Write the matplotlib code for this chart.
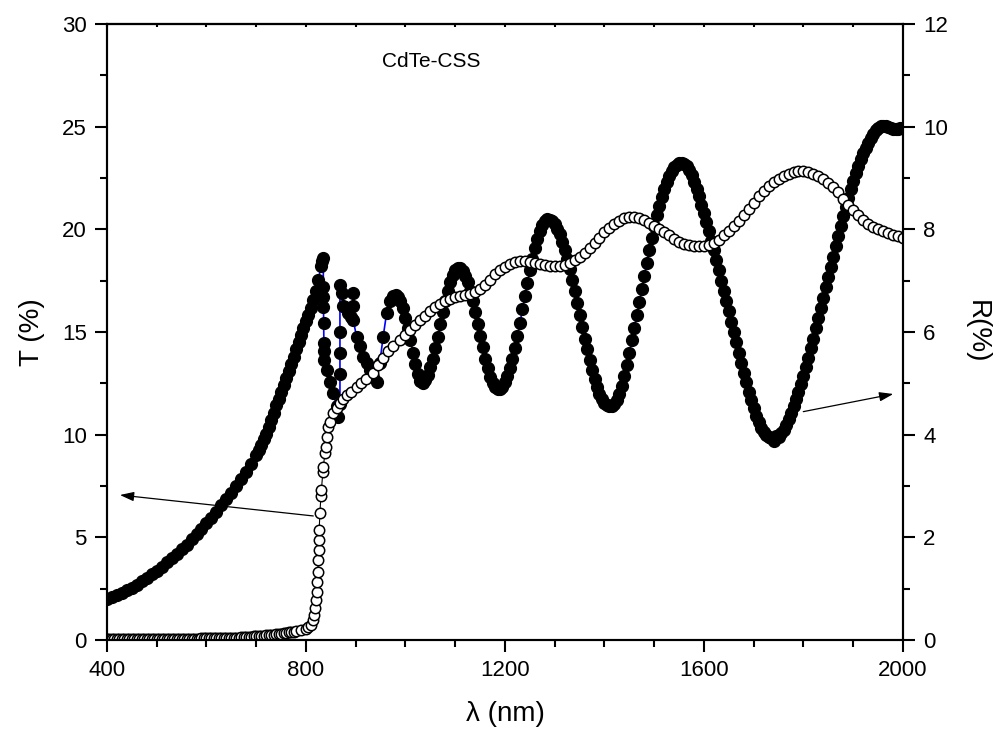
import numpy as np
import matplotlib
matplotlib.use('Agg')
import matplotlib.pyplot as plt
from matplotlib.ticker import MultipleLocator

plt.rcParams['font.family'] = ['Liberation Sans', 'DejaVu Sans']

# T (%) - open circles, left axis
t_wl_a = np.arange(400, 781, 5)
t_a = [0.03, 0.03, 0.03, 0.03, 0.03, 0.03, 0.03, 0.03, 0.03, 0.03,
       0.04, 0.04, 0.04, 0.04, 0.04, 0.04, 0.04, 0.04, 0.05, 0.05,
       0.05, 0.05, 0.05, 0.05, 0.05, 0.05, 0.05, 0.05, 0.06, 0.06,
       0.06, 0.06, 0.06, 0.06, 0.07, 0.07, 0.07, 0.07, 0.08, 0.08,
       0.08, 0.08, 0.09, 0.09, 0.09, 0.09, 0.10, 0.10, 0.10, 0.10,
       0.11, 0.11, 0.12, 0.12, 0.13, 0.13, 0.14, 0.15, 0.16, 0.17,
       0.18, 0.19, 0.20, 0.21, 0.22, 0.23, 0.25, 0.26, 0.28, 0.30,
       0.31, 0.33, 0.35, 0.37, 0.39, 0.41, 0.43]
t_wl_b = [790, 800, 805, 810, 814, 816, 818, 820, 821.4, 823,
          824, 824.8, 825.5, 826, 826.5, 828, 830, 831, 834, 835,
          838, 839.5, 841.5, 845, 848, 855, 862, 868, 875, 882,
          890, 902, 910, 920, 935, 945, 955, 965, 975, 989, 1000]
t_b = [0.48, 0.55, 0.62, 0.75, 0.95, 1.2, 1.54, 1.95, 2.35, 2.84,
       3.33, 3.9, 4.38, 4.87, 5.36, 6.17, 7.0, 7.31, 8.2, 8.44,
       9.09, 9.42, 9.9, 10.39, 10.64, 11.04, 11.3, 11.53, 11.75, 11.93,
       12.1, 12.3, 12.5, 12.7, 13.0, 13.4, 13.75, 14.05, 14.3, 14.6, 14.85]
t_wl_c = np.arange(1010, 2001, 10)
t_c = [15.1, 15.35, 15.6, 15.8, 16.0, 16.2, 16.35, 16.5, 16.6, 16.7,
       16.75, 16.8, 16.85, 16.95, 17.1, 17.3, 17.55, 17.8, 18.0, 18.15,
       18.3, 18.4, 18.45, 18.45, 18.4, 18.35, 18.3, 18.25, 18.2, 18.2,
       18.2, 18.25, 18.35, 18.5, 18.65, 18.85, 19.1, 19.35, 19.6, 19.85,
       20.05, 20.25, 20.4, 20.55, 20.6, 20.6, 20.55, 20.45, 20.3, 20.15,
       20.0, 19.85, 19.7, 19.55, 19.4, 19.3, 19.25, 19.2, 19.2, 19.2,
       19.25, 19.35, 19.5, 19.7, 19.9, 20.15, 20.4, 20.7, 21.0, 21.3,
       21.6, 21.85, 22.1, 22.3, 22.45, 22.6, 22.7, 22.8, 22.85, 22.85,
       22.8, 22.7, 22.6, 22.45, 22.25, 22.05, 21.8, 21.5, 21.2, 20.95,
       20.7, 20.45, 20.25, 20.1, 20.0, 19.9, 19.8, 19.7, 19.65, 19.6]

# R (%) - filled circles, right axis
r_wl_a = np.arange(400, 701, 10)
r_a = [0.80, 0.84, 0.88, 0.92, 0.97, 1.02, 1.08, 1.14, 1.21, 1.28,
       1.35, 1.43, 1.51, 1.59, 1.68, 1.77, 1.86, 1.96, 2.06, 2.16,
       2.27, 2.38, 2.50, 2.62, 2.74, 2.87, 3.00, 3.14, 3.28, 3.43, 3.60]
r_wl_b = np.arange(705, 831, 5)
r_b = [3.70, 3.80, 3.91, 4.02, 4.15, 4.29, 4.43, 4.57, 4.70, 4.83,
       4.96, 5.10, 5.24, 5.38, 5.52, 5.66, 5.80, 5.94, 6.08, 6.21,
       6.34, 6.47, 6.62, 6.80, 7.02, 7.28]
r_wl_c = [832.5, 834.8, 834.8, 835, 835.2, 835.5, 836, 836.5, 837, 841.5,
          848, 855, 861.6, 865, 868.3, 868.3, 868.3, 868.3, 868.3, 872,
          875, 878.4, 885, 890, 895, 895, 895, 901.7, 908.4, 915,
          921.8, 928.5, 935, 941.8, 948.5, 955, 962, 968.6, 975, 980]
r_c = [7.38, 7.45, 6.88, 6.69, 6.49, 6.17, 5.78, 5.62, 5.46, 5.26,
       5.03, 4.81, 4.55, 4.35, 4.6, 5.19, 5.59, 6.0, 6.92, 6.75,
       6.5, 6.49, 6.36, 6.3, 6.75, 6.5, 6.23, 5.91, 5.72, 5.52,
       5.39, 5.26, 5.13, 5.03, 5.4, 5.9, 6.36, 6.6, 6.7, 6.72]
r_wl_d = np.arange(985, 2001, 5)
r_d = [6.69, 6.60, 6.46, 6.28, 6.07, 5.84, 5.60, 5.38, 5.19, 5.04,
       5.01, 5.06, 5.16, 5.31, 5.48, 5.69, 5.91, 6.15, 6.38, 6.60,
       6.80, 6.98, 7.11, 7.20, 7.25,
       7.24, 7.19, 7.10, 6.97, 6.80, 6.60, 6.39, 6.16, 5.92, 5.70,
       5.48, 5.29, 5.13, 5.01, 4.93, 4.88,
       4.89, 4.93, 5.02, 5.14, 5.30, 5.48, 5.69, 5.93, 6.17, 6.44,
       6.70, 6.96, 7.20, 7.43, 7.63, 7.81, 7.97, 8.08, 8.16, 8.20,
       8.19, 8.16, 8.10, 8.01, 7.90, 7.76, 7.59, 7.42, 7.22, 7.01,
       6.79, 6.56, 6.33, 6.10, 5.87, 5.66, 5.45, 5.26, 5.08, 4.93,
       4.80, 4.70, 4.62, 4.57, 4.55,
       4.56, 4.60, 4.68, 4.80, 4.95, 5.14, 5.36, 5.60, 5.84, 6.08,
       6.33, 6.58, 6.84, 7.10, 7.35, 7.60, 7.84, 8.06, 8.27, 8.46,
       8.63, 8.78, 8.92, 9.04, 9.13, 9.21, 9.26, 9.29, 9.30,
       9.28, 9.23, 9.15, 9.05, 8.93, 8.79, 8.64, 8.48, 8.32, 8.15,
       7.97, 7.78, 7.59, 7.40, 7.20, 7.00, 6.80, 6.60, 6.40, 6.20,
       6.00, 5.80, 5.60, 5.40, 5.21, 5.02, 4.84, 4.67, 4.51, 4.37,
       4.24, 4.13, 4.05, 3.99, 3.95, 3.93, 3.88, 3.97, 3.95,
       4.03, 4.10, 4.19, 4.30, 4.42, 4.55, 4.69, 4.83, 4.98, 5.14,
       5.31, 5.49, 5.68, 5.87, 6.07, 6.27, 6.47, 6.67, 6.87, 7.07,
       7.27, 7.47, 7.67, 7.87, 8.06, 8.25, 8.43, 8.61, 8.78, 8.94,
       9.09, 9.23, 9.36, 9.48, 9.59, 9.69, 9.78, 9.86, 9.93, 9.98,
       10.01, 10.02, 10.01, 9.99, 9.97, 9.96, 9.95, 9.96, 9.97, 9.98]

t_wl = np.concatenate([t_wl_a, t_wl_b, t_wl_c])
t_val = np.concatenate([t_a, t_b, t_c])
r_wl = np.concatenate([r_wl_a, r_wl_b, r_wl_c, r_wl_d])
r_val = np.concatenate([r_a, r_b, r_c, r_d])

fig = plt.figure(figsize=(9.96, 7.33), dpi=100)
ax = fig.add_axes([0.1074, 0.1269, 0.7992, 0.8404])
ax2 = ax.twinx()
ax.set_zorder(ax2.get_zorder() + 1)
ax.patch.set_visible(False)

ax2.plot(r_wl, r_val, '-', color='blue', lw=1.2, marker='o', ms=8.5,
         mfc='black', mec='black')
ax.plot(t_wl, t_val, '-', color='black', lw=0.8, marker='o', ms=7.5,
        mfc='white', mec='black', mew=1.1)

ax.set_xlim(400, 2000)
ax.set_ylim(0, 30)
ax2.set_ylim(0, 12)
ax.xaxis.set_major_locator(MultipleLocator(400))
ax.xaxis.set_minor_locator(MultipleLocator(100))
ax.yaxis.set_major_locator(MultipleLocator(5))
ax.yaxis.set_minor_locator(MultipleLocator(2.5))
ax2.yaxis.set_major_locator(MultipleLocator(2))
ax2.yaxis.set_minor_locator(MultipleLocator(1))

for a in (ax, ax2):
    for s in a.spines.values():
        s.set_linewidth(1.5)
    a.tick_params(which='major', direction='out', length=8.5, width=1.5,
                  labelsize=16, pad=6)
    a.tick_params(which='minor', direction='out', length=5, width=1.5)

top = ax.secondary_xaxis('top')
top.xaxis.set_major_locator(MultipleLocator(100))
top.tick_params(direction='in', length=2, width=1.5, labeltop=False)
top.spines['top'].set_linewidth(1.5)

ax.set_xlabel('λ (nm)', fontsize=20, labelpad=14)
ax.set_ylabel('T (%)', fontsize=20, labelpad=12)
ax2.set_ylabel('R(%)', fontsize=20, rotation=270, labelpad=30)

ax.text(1052, 28.15, 'CdTe-CSS', ha='center', va='center', fontsize=15)

arrow = dict(arrowstyle='-|>,head_length=0.6,head_width=0.2', color='black',
             lw=0.9, mutation_scale=14, shrinkA=0, shrinkB=0)
ax.annotate('', xy=(426, 7.06), xytext=(814.7, 6.04), arrowprops=arrow)
ax.annotate('', xy=(1980.5, 11.98), xytext=(1799.6, 11.12), arrowprops=arrow)

plt.savefig('out.png', dpi=100)
